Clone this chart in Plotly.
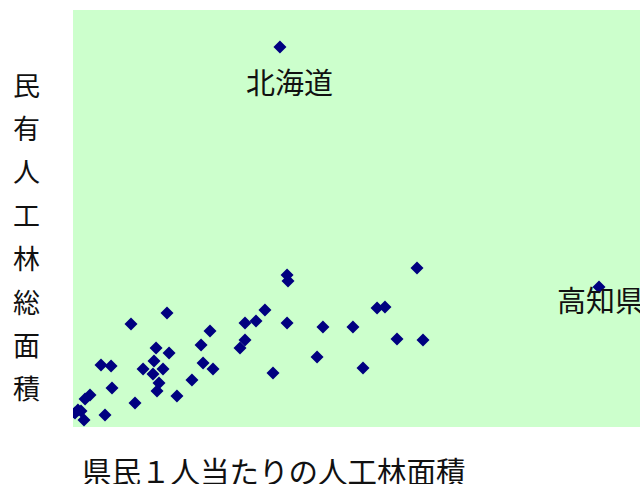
import plotly.graph_objects as go

# 県民1人当たりの人工林面積 (ha/人) と 民有人工林総面積 (千ha)
per_capita = [0.1752, 0.4453, 0.2912, 0.1812, 0.1820, 0.1625, 0.1549, 0.1456, 0.1812, 0.1160,
              0.1456, 0.1414, 0.1084, 0.1101, 0.1185, 0.1693, 0.1007, 0.2574, 0.2641, 0.2116,
              0.2370, 0.2743, 0.2963, 0.2066, 0.2455, 0.0796, 0.0491, 0.0237, 0.0322, 0.0703,
              0.0686, 0.0813, 0.0593, 0.0677, 0.0762, 0.0728, 0.0711, 0.0330, 0.0880, 0.0144,
              0.0102, 0.0525, 0.0271, 0.0042, 0.0017, 0.0093, 0.0068]
total_area = [729.0, 268.6, 305.0, 291.6, 280.1, 224.5, 203.4, 199.5, 199.5, 184.2,
              166.9, 151.6, 157.3, 122.8, 111.3, 103.6, 90.2, 228.3, 230.2, 191.8,
              191.8, 168.8, 166.9, 134.3, 113.2, 218.7, 197.6, 118.9, 117.0, 151.6,
              126.6, 142.0, 111.3, 101.7, 111.3, 84.4, 69.1, 74.8, 59.5, 61.4,
              53.7, 46.0, 23.0, 32.6, 26.9, 13.4, 30.7]

labels = {0: "北海道", 1: "高知県"}
label_shift = {0: (10, -34), 1: (1, -12)}

x_title = "県民１人当たりの人工林面積"
y_title = "民有人工林総面積"

FONT = "Noto Sans CJK JP"

fig = go.Figure()
fig.add_trace(go.Scatter(
    x=per_capita, y=total_area, mode="markers",
    marker=dict(symbol="diamond", size=10, color="#000080"),
    hoverinfo="skip", showlegend=False,
))

annotations = []
for i, name in labels.items():
    dx, dy = label_shift[i]
    annotations.append(dict(
        x=per_capita[i], y=total_area[i], xref="x", yref="y", text=name,
        showarrow=False, xshift=dx, yshift=dy, yanchor="middle",
        font=dict(family=FONT, size=29, color="#111111"),
    ))

annotations.append(dict(
    x=0.3545, y=0, xref="paper", yref="paper", text=x_title, showarrow=False,
    yshift=-43, yanchor="middle", xanchor="center",
    font=dict(family=FONT, size=29.5, color="#111111"),
))

for k, ch in enumerate(y_title):
    annotations.append(dict(
        x=0, y=1, xref="paper", yref="paper", text=ch, showarrow=False,
        xshift=-47, yshift=-(74 + 43.4 * k), xanchor="center", yanchor="middle",
        font=dict(family=FONT, size=27, color="#111111"),
    ))

fig.update_layout(
    width=640, height=484,
    margin=dict(l=73, r=0, t=10, b=57),
    paper_bgcolor="white", plot_bgcolor="#ccffcc",
    xaxis=dict(range=[0, 0.48], showgrid=False, zeroline=False, showticklabels=False,
               ticks="", showline=False),
    yaxis=dict(range=[0, 800], showgrid=False, zeroline=False, showticklabels=False,
               ticks="", showline=False),
    annotations=annotations,
)

fig.write_html(
    "out.html",
    config={"displayModeBar": False},
    post_script="document.body.style.margin='0';document.body.style.overflow='hidden';",
)
